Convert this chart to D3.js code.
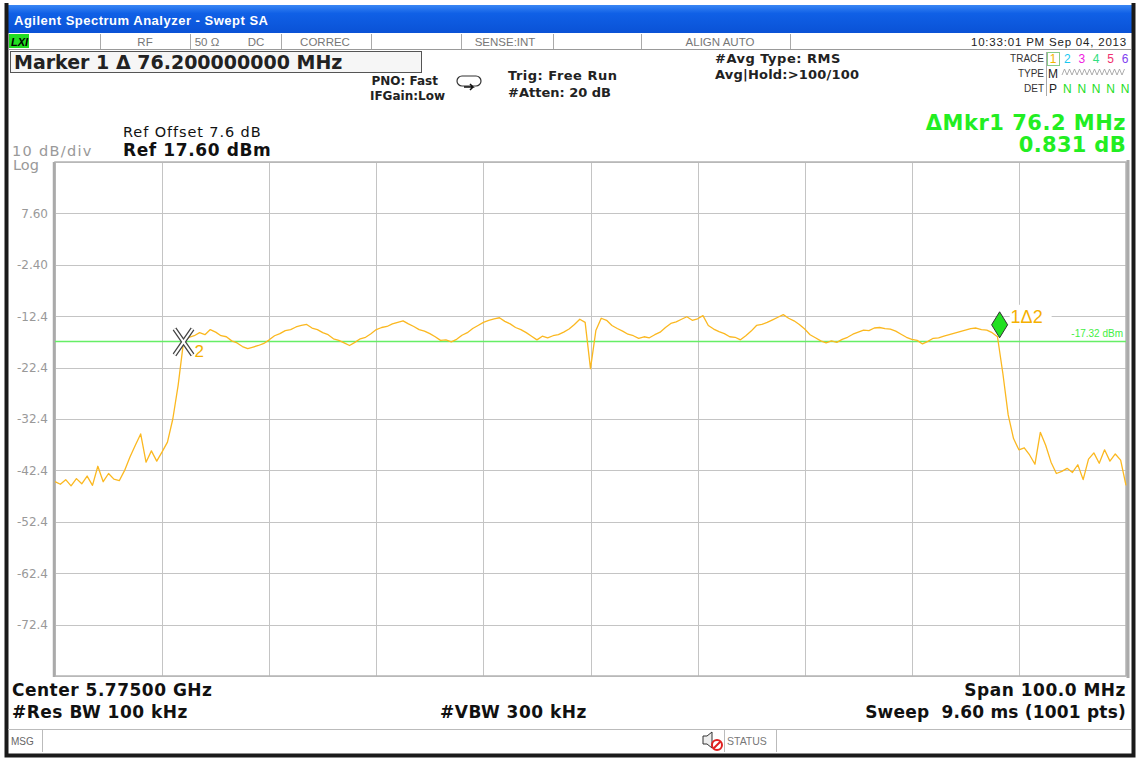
<!DOCTYPE html>
<html>
<head>
<meta charset="utf-8">
<script src="https://cdn.jsdelivr.net/npm/d3@7"></script>
<style>
  body { margin: 0; background: #fff; }
  svg text { font-family: "DejaVu Sans", Verdana, sans-serif; }
  svg text.lib { font-family: "Liberation Sans", Arial, sans-serif; }
</style>
</head>
<body>
<div id="chart"></div>
<script>
// sweep: 5.725 - 5.825 GHz, trace sampled every 0.5 MHz (offset from start)
const stepMHz = 0.5;
const traceDbm = [
  -44.6, -45.1, -44.2, -45.4, -44.0, -45.0, -43.5, -45.3, -41.6, -44.6,
  -43.0, -44.1, -44.4, -42.4, -39.8, -37.5, -35.3, -40.8, -38.6, -40.6,
  -38.8, -36.9, -32.4, -25.8, -17.4, -16.5, -16.2, -15.6, -16.0, -15.0,
  -15.5, -16.2, -16.4, -17.2, -17.6, -18.3, -18.7, -18.4, -18.1, -17.7,
  -17.0, -16.2, -15.8, -15.2, -15.0, -14.5, -14.2, -14.0, -14.7, -15.0,
  -15.6, -16.0, -16.8, -17.1, -17.6, -18.1, -17.5, -16.8, -16.5, -15.8,
  -15.0, -14.6, -14.4, -13.9, -13.6, -13.3, -13.9, -14.4, -15.0, -15.3,
  -15.8, -16.4, -17.1, -17.0, -17.4, -16.9, -16.1, -15.6, -14.8, -14.2,
  -13.6, -13.2, -12.9, -12.7, -13.4, -13.9, -14.6, -15.0, -15.6, -16.3,
  -17.0, -16.3, -16.6, -16.2, -16.0, -15.5, -14.9, -14.0, -13.0, -13.6,
  -22.6, -15.2, -12.8, -13.2, -14.2, -14.8, -15.3, -15.9, -16.2, -16.7,
  -16.4, -16.6, -16.0, -15.5, -14.6, -13.8, -13.5, -13.0, -12.5, -13.2,
  -12.9, -12.3, -14.2, -14.9, -15.4, -15.8, -16.4, -16.5, -17.0, -16.2,
  -15.3, -14.2, -14.0, -13.6, -13.1, -12.6, -12.1, -12.8, -13.3, -14.0,
  -14.9, -16.0, -16.6, -17.2, -17.6, -17.2, -17.5, -16.9, -16.5, -15.9,
  -15.5, -15.1, -15.2, -14.7, -14.6, -14.8, -14.9, -15.3, -15.9, -16.5,
  -16.9, -17.1, -17.8, -17.3, -16.7, -16.6, -16.3, -16.0, -15.7, -15.4,
  -15.1, -14.8, -14.7, -15.0, -15.1, -15.6, -16.4, -23.5, -31.6, -36.2,
  -38.4, -38.0, -39.4, -41.2, -35.0, -37.5, -40.8, -43.0, -42.6, -42.0,
  -42.8, -41.3, -44.2, -40.2, -39.0, -41.0, -38.4, -40.6, -39.2, -40.4,
  -45.3
];

const yTickValues = [7.6, -2.4, -12.4, -22.4, -32.4, -42.4, -52.4, -62.4, -72.4];
const yTickLabels = ["7.60", "-2.40", "-12.4", "-22.4", "-32.4", "-42.4", "-52.4", "-62.4", "-72.4"];

const refLevel = 17.6;
const bottomLevel = -82.4;
const displayLine = -17.32;

// markers: [delta marker 1, reference marker 2]
const markerNames = ["1Δ2", "2"];
const markerMHz = [88.2, 12.0];
const markerDbm = [-16.6, -17.4];

const statusCells = ["RF", "50 Ω", "DC", "CORREC", "SENSE:INT", "ALIGN AUTO"];
const traceColors = ["#f5b400", "#18c8f0", "#f020e0", "#30e080", "#f03070", "#8040f0"];

const W = 1139, H = 758;
const plot = { left: 55, right: 1126, top: 162, bottom: 676 };

const svg = d3.select("#chart").append("svg")
  .attr("width", W).attr("height", H);

svg.append("rect").attr("width", W).attr("height", H).attr("fill", "#fff");

function label(xp, yp, t, size, opts) {
  opts = opts || {};
  return svg.append("text").attr("x", xp).attr("y", yp)
    .attr("class", opts.cls || null)
    .attr("font-size", size)
    .attr("font-weight", opts.bold ? "bold" : null)
    .attr("letter-spacing", opts.ls || null)
    .attr("fill", opts.fill || "#111")
    .attr("text-anchor", opts.anchor || "start")
    .attr("xml:space", "preserve")
    .text(t);
}

// window frame + title bar
const grad = svg.append("defs").append("linearGradient")
  .attr("id", "title").attr("x1", 0).attr("y1", 0).attr("x2", 0).attr("y2", 1);
grad.append("stop").attr("offset", "0%").attr("stop-color", "#3a86f4");
grad.append("stop").attr("offset", "30%").attr("stop-color", "#1060e6");
grad.append("stop").attr("offset", "100%").attr("stop-color", "#0a52d6");

svg.append("rect").attr("x", 6).attr("y", 5).attr("width", 1127).attr("height", 28)
  .attr("fill", "url(#title)");
label(14, 25, "Agilent Spectrum Analyzer - Swept SA", 13, { cls: "lib", bold: true, ls: 0.5, fill: "#fff" });

svg.append("path")
  .attr("d", "M6.5,3 V755.5 H1133.5 V3")
  .attr("fill", "none").attr("stroke", "#1a1a1a").attr("stroke-width", 4);

// status row
svg.append("line").attr("x1", 8).attr("x2", 1131).attr("y1", 49.5).attr("y2", 49.5)
  .attr("stroke", "#999");
svg.append("rect").attr("x", 9).attr("y", 34).attr("width", 20).attr("height", 14)
  .attr("fill", "#22dd22");
svg.append("text").attr("class", "lib").attr("x", 11).attr("y", 45.5).attr("font-size", 11)
  .attr("font-weight", "bold").attr("font-style", "italic").attr("fill", "#000").text("LXI");

const sepX = [100, 190, 281, 371, 461, 553, 641, 790];
svg.selectAll(".sep").data(sepX).enter().append("line")
  .attr("x1", d => d + 0.5).attr("x2", d => d + 0.5).attr("y1", 34).attr("y2", 49)
  .attr("stroke", "#aaa");
const cellX = [145, 207, 256, 325, 505, 720];
svg.selectAll(".cell").data(statusCells).enter().append("text")
  .attr("class", "lib")
  .attr("x", (d, i) => cellX[i]).attr("y", 46).attr("text-anchor", "middle")
  .attr("font-size", 11.5).attr("fill", "#777").text(d => d);
label(1127, 46, "10:33:01 PM Sep 04, 2013", 11.5, { cls: "lib", ls: 0.8, fill: "#222", anchor: "end" });

// marker readout box
svg.append("rect").attr("x", 10.5).attr("y", 51.5).attr("width", 411).attr("height", 21)
  .attr("fill", "#f6f6f6").attr("stroke", "#555");
label(14, 69, "Marker 1 Δ 76.200000000 MHz", 19, { bold: true, fill: "#222" });

label(438, 85, "PNO: Fast", 12, { bold: true, anchor: "end", fill: "#222" });
label(445, 100, "IFGain:Low", 12, { bold: true, anchor: "end", fill: "#222" });
label(508, 80, "Trig: Free Run", 13, { bold: true, ls: 0.5, fill: "#222" });
label(508, 97, "#Atten: 20 dB", 13, { bold: true, fill: "#222" });
label(715, 63, "#Avg Type: RMS", 13, { bold: true, ls: 0.5, fill: "#222" });
label(715, 79, "Avg|Hold:>100/100", 13, { bold: true, ls: 0.2, fill: "#222" });

// trigger icon
svg.append("path")
  .attr("d", "M462,76 h14 a5,5 0 0 1 0,10 h-14 a5,5 0 0 1 0,-10 Z")
  .attr("fill", "none").attr("stroke", "#333").attr("stroke-width", 1.2);
svg.append("path").attr("d", "M464,87 h9 l-3,-3 M473,87 l-3,3")
  .attr("fill", "none").attr("stroke", "#111").attr("stroke-width", 1.5);

// trace table
["TRACE", "TYPE", "DET"].forEach((t, i) => {
  label(1044, 62 + i * 15, t, 10, { cls: "lib", anchor: "end", fill: "#333" });
});
svg.append("line").attr("x1", 1046.5).attr("x2", 1046.5).attr("y1", 52).attr("y2", 96)
  .attr("stroke", "#aaa");
svg.append("rect").attr("x", 1047.5).attr("y", 52.5).attr("width", 12).attr("height", 13)
  .attr("fill", "none").attr("stroke", "#8c8");
traceColors.forEach((c, i) => {
  label(1053 + i * 14.4, 63, String(i + 1), 12, { cls: "lib", anchor: "middle", fill: c });
  label(1053 + i * 14.4, 93, i === 0 ? "P" : "N", 12, { cls: "lib", anchor: "middle", fill: i === 0 ? "#222" : "#22dd22" });
});
label(1053, 78, "M", 12, { cls: "lib", anchor: "middle", fill: "#222" });
svg.append("path")
  .attr("d", d3.range(0, 64, 2.5).map((d, i) => (i ? "L" : "M") + (1062 + d) + "," + (i % 2 ? 69 : 75)).join(""))
  .attr("fill", "none").attr("stroke", "#999").attr("stroke-width", 0.8);

// reference labels
label(123, 137, "Ref Offset 7.6 dB", 14.5, { ls: 0.9 });
label(123, 156, "Ref 17.60 dBm", 17, { bold: true, ls: 0.6 });
label(12, 156, "10 dB/div", 14.5, { ls: 1.3, fill: "#999" });
label(13, 170, "Log", 14.5, { fill: "#999" });

label(1126, 130, "ΔMkr1 76.2 MHz", 21, { bold: true, ls: 0.5, fill: "#22ee22", anchor: "end" });
label(1126, 152, "0.831 dB", 21, { bold: true, ls: 0.3, fill: "#22ee22", anchor: "end" });

// scales
const x = d3.scaleLinear().domain([0, 100]).range([plot.left, plot.right]);
const y = d3.scaleLinear().domain([bottomLevel, refLevel]).range([plot.bottom, plot.top]);

// graticule
const g = svg.append("g");
g.selectAll(".vg").data(x.ticks(10)).enter().append("line")
  .attr("x1", d => Math.round(x(d)) + 0.5).attr("x2", d => Math.round(x(d)) + 0.5)
  .attr("y1", plot.top).attr("y2", plot.bottom).attr("stroke", "#c4c4c4");
g.selectAll(".hg").data(d3.range(bottomLevel, refLevel + 1, 10)).enter().append("line")
  .attr("x1", plot.left).attr("x2", plot.right)
  .attr("y1", d => Math.round(y(d)) + 0.5).attr("y2", d => Math.round(y(d)) + 0.5)
  .attr("stroke", "#c4c4c4");
g.append("rect").attr("x", plot.left).attr("y", plot.top)
  .attr("width", plot.right - plot.left).attr("height", plot.bottom - plot.top)
  .attr("fill", "none").attr("stroke", "#b4b4b4").attr("stroke-width", 1.5);
g.append("line").attr("x1", plot.right + 2).attr("x2", plot.right + 2)
  .attr("y1", plot.top - 2).attr("y2", plot.bottom + 2).attr("stroke", "#aaa").attr("stroke-width", 3);
g.append("line").attr("x1", plot.left - 1).attr("x2", plot.left - 1)
  .attr("y1", plot.top).attr("y2", plot.bottom + 1).attr("stroke", "#aaa").attr("stroke-width", 2.5);

const yAxis = d3.axisLeft(y).tickValues(yTickValues)
  .tickFormat((d, i) => yTickLabels[i]).tickSize(0).tickPadding(7);
svg.append("g").attr("transform", `translate(${plot.left},0)`).call(yAxis)
  .call(a => a.select(".domain").remove())
  .selectAll("text").attr("font-size", 12).attr("fill", "#999")
  .attr("font-family", "Liberation Sans, Arial, sans-serif");

// display line
svg.append("line").attr("x1", plot.left).attr("x2", plot.right)
  .attr("y1", y(displayLine)).attr("y2", y(displayLine))
  .attr("stroke", "#66ee66").attr("stroke-width", 1.3);
label(plot.right - 3, y(displayLine) - 4, displayLine.toFixed(2) + " dBm", 10,
  { cls: "lib", anchor: "end", fill: "#44ee44" });

// trace
const line = d3.line()
  .x((d, i) => x(i * stepMHz))
  .y(d => y(d));
svg.append("path").datum(traceDbm)
  .attr("d", line)
  .attr("fill", "none").attr("stroke", "#fbb820").attr("stroke-width", 1.3)
  .attr("stroke-linejoin", "round");

// marker 2 (reference "X")
const m2x = x(markerMHz[1]), m2y = y(markerDbm[1]);
const xPath = `M${m2x - 9},${m2y - 13} L${m2x + 9},${m2y + 13} M${m2x + 9},${m2y - 13} L${m2x - 9},${m2y + 13}`;
svg.append("path").attr("d", xPath).attr("stroke", "#444").attr("stroke-width", 4.5).attr("fill", "none");
svg.append("path").attr("d", xPath).attr("stroke", "#fff").attr("stroke-width", 2).attr("fill", "none");
label(m2x + 11, m2y + 15, markerNames[1], 17, { cls: "lib", fill: "#f5b000" });

// marker 1 (delta diamond)
const m1x = x(markerMHz[0]), m1y = y(markerDbm[0]);
svg.append("path")
  .attr("d", `M${m1x},${m1y} L${m1x - 8},${m1y - 13} L${m1x},${m1y - 26} L${m1x + 8},${m1y - 13} Z`)
  .attr("fill", "#22e022").attr("stroke", "#333").attr("stroke-width", 1);
svg.append("rect").attr("x", m1x + 10).attr("y", m1y - 33).attr("width", 42).attr("height", 24)
  .attr("fill", "#fff");
label(m1x + 11, m1y - 15, markerNames[0], 18, { cls: "lib", fill: "#f5b000" });

// bottom annotations
const bopt = { bold: true, ls: 0.5 };
label(12, 696, "Center 5.77500 GHz", 17, bopt);
label(12, 718, "#Res BW 100 kHz", 17, bopt);
label(440, 718, "#VBW 300 kHz", 17, bopt);
label(1126, 696, "Span 100.0 MHz", 17, { bold: true, ls: 0.5, anchor: "end" });
label(1126, 718, "Sweep  9.60 ms (1001 pts)", 17, { bold: true, ls: 0.2, anchor: "end" });

// message bar
svg.append("line").attr("x1", 8).attr("x2", 1131).attr("y1", 729.5).attr("y2", 729.5)
  .attr("stroke", "#bbb");
[42, 724, 776].forEach(d => svg.append("line").attr("x1", d + 0.5).attr("x2", d + 0.5)
  .attr("y1", 730).attr("y2", 752).attr("stroke", "#bbb"));
label(11, 745, "MSG", 10, { cls: "lib", fill: "#666" });
label(727, 745, "STATUS", 10.5, { cls: "lib", fill: "#777" });
// speaker icon with mute sign
svg.append("path").attr("d", "M703,736 h4 l5,-4 v16 l-5,-4 h-4 Z")
  .attr("fill", "#eee").attr("stroke", "#333");
svg.append("circle").attr("cx", 717).attr("cy", 745).attr("r", 5)
  .attr("fill", "#fff").attr("stroke", "#e02020").attr("stroke-width", 2);
svg.append("line").attr("x1", 713.5).attr("y1", 748.5).attr("x2", 720.5).attr("y2", 741.5)
  .attr("stroke", "#e02020").attr("stroke-width", 2);
</script>
</body>
</html>
